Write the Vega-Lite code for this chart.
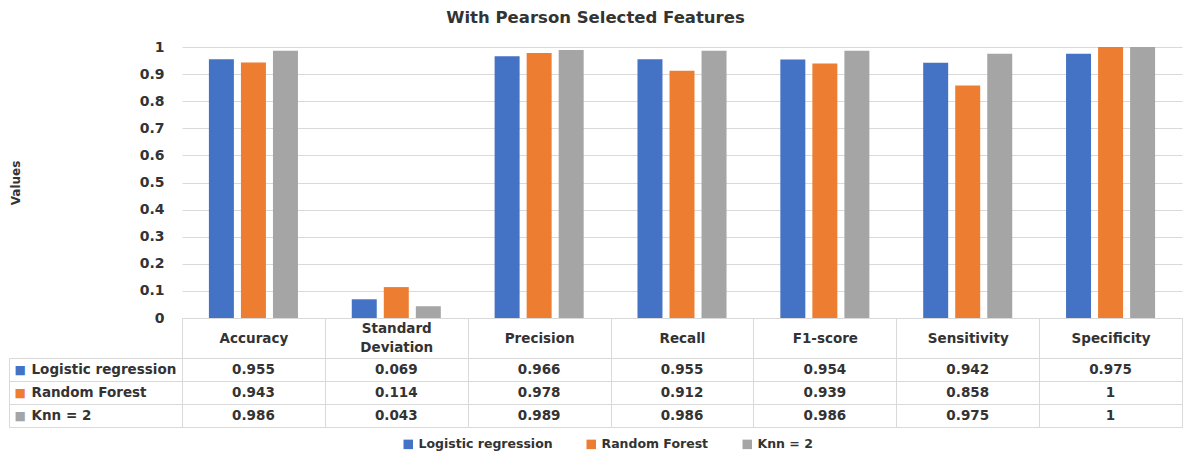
{
  "$schema": "https://vega.github.io/schema/vega-lite/v6.json",
  "padding": {"left": 8, "top": 9, "right": 0, "bottom": 0},
  "title": {"text": "With Pearson Selected Features", "font": "DejaVu Sans", "fontSize": 16.5, "fontWeight": "bold", "color": "#333333", "anchor": "middle", "offset": 14},
  "spacing": 40,
  "bounds": "flush",
  "config": {
    "font": "DejaVu Sans",
    "view": {"stroke": "#D9D9D9"}
  },
  "data": {"values": [
    {"metric": "Accuracy", "model": "Logistic regression", "value": 0.955},
    {"metric": "Standard Deviation", "model": "Logistic regression", "value": 0.069},
    {"metric": "Precision", "model": "Logistic regression", "value": 0.966},
    {"metric": "Recall", "model": "Logistic regression", "value": 0.955},
    {"metric": "F1-score", "model": "Logistic regression", "value": 0.954},
    {"metric": "Sensitivity", "model": "Logistic regression", "value": 0.942},
    {"metric": "Specificity", "model": "Logistic regression", "value": 0.975},
    {"metric": "Accuracy", "model": "Random Forest", "value": 0.943},
    {"metric": "Standard Deviation", "model": "Random Forest", "value": 0.114},
    {"metric": "Precision", "model": "Random Forest", "value": 0.978},
    {"metric": "Recall", "model": "Random Forest", "value": 0.912},
    {"metric": "F1-score", "model": "Random Forest", "value": 0.939},
    {"metric": "Sensitivity", "model": "Random Forest", "value": 0.858},
    {"metric": "Specificity", "model": "Random Forest", "value": 1},
    {"metric": "Accuracy", "model": "Knn = 2", "value": 0.986},
    {"metric": "Standard Deviation", "model": "Knn = 2", "value": 0.043},
    {"metric": "Precision", "model": "Knn = 2", "value": 0.989},
    {"metric": "Recall", "model": "Knn = 2", "value": 0.986},
    {"metric": "F1-score", "model": "Knn = 2", "value": 0.986},
    {"metric": "Sensitivity", "model": "Knn = 2", "value": 0.975},
    {"metric": "Specificity", "model": "Knn = 2", "value": 1}
  ]},
  "resolve": {"scale": {"color": "shared"}, "legend": {"color": "shared"}},
  "vconcat": [
    {
      "width": 1000,
      "height": 271,
      "view": {"stroke": null},
      "mark": {"type": "bar"},
      "encoding": {
        "x": {"field": "metric", "type": "nominal",
          "sort": ["Accuracy", "Standard Deviation", "Precision", "Recall", "F1-score", "Sensitivity", "Specificity"],
          "scale": {"paddingInner": 0, "paddingOuter": 0},
          "axis": {"title": null, "labels": false, "ticks": false, "grid": false, "domainColor": "#D9D9D9"}},
        "xOffset": {"field": "model", "type": "nominal",
          "sort": ["Logistic regression", "Random Forest", "Knn = 2"],
          "scale": {"paddingInner": 0.22, "paddingOuter": 0.84}},
        "y": {"field": "value", "type": "quantitative",
          "scale": {"domain": [0, 1]},
          "axis": {"values": [0, 0.1, 0.2, 0.3, 0.4, 0.5, 0.6, 0.7, 0.8, 0.9, 1], "format": "~g",
            "title": "Values", "domain": false, "ticks": false, "gridColor": "#D9D9D9",
            "labelPadding": 18, "labelFont": "DejaVu Sans", "labelFontWeight": "bold", "labelFontSize": 14, "labelColor": "#333333",
            "titleFont": "DejaVu Sans", "titleFontWeight": "bold", "titleFontSize": 12, "titleColor": "#333333",
            "titleAngle": 270, "titleX": -160, "titleY": 135.5, "titleBaseline": "bottom", "titleAlign": "center"}},
        "color": {"field": "model", "type": "nominal",
          "sort": ["Logistic regression", "Random Forest", "Knn = 2"],
          "scale": {"domain": ["Logistic regression", "Random Forest", "Knn = 2"], "range": ["#4472C4", "#ED7D31", "#A5A5A5"]},
          "legend": {"orient": "none", "legendX": 220, "legendY": 391, "direction": "horizontal", "title": null, "symbolType": "square", "symbolSize": 90,
            "symbolStrokeWidth": 0, "labelFont": "DejaVu Sans", "labelFontWeight": "bold", "labelFontSize": 12.5, "labelColor": "#333333",
            "columnPadding": 32, "labelOffset": 4, "labelLimit": 0}}
      }
    },
    {
      "width": 1000,
      "height": 69,
      "layer": [
        {
          "mark": {"type": "text", "font": "DejaVu Sans", "fontWeight": "bold", "fontSize": 13.5, "color": "#333333"},
          "encoding": {
            "x": {"field": "metric", "type": "nominal",
              "sort": ["Accuracy", "Standard Deviation", "Precision", "Recall", "F1-score", "Sensitivity", "Specificity"],
              "scale": {"paddingInner": 0, "paddingOuter": 0},
              "axis": {"orient": "top", "title": null, "tickBand": "extent", "tickSize": 40, "tickColor": "#D9D9D9",
                "domainColor": "#D9D9D9", "grid": true, "gridColor": "#D9D9D9", "labelAngle": 0,
                "labelPadding": {"condition": {"test": "datum.value === 'Standard Deviation'", "value": -10.5}, "value": -20},
                "labelBaseline": "middle", "labelAlign": "center", "labelFont": "DejaVu Sans", "labelFontWeight": "bold",
                "labelFontSize": 13.5, "labelColor": "#333333", "labelLineHeight": 19, "labelOverlap": false, "labelLimit": 0,
                "labelExpr": "datum.value == 'Standard Deviation' ? ['Standard', 'Deviation'] : datum.label"}},
            "y": {"field": "model", "type": "nominal",
              "sort": ["Logistic regression", "Random Forest", "Knn = 2"],
              "scale": {"paddingInner": 0, "paddingOuter": 0},
              "axis": {"orient": "left", "title": null, "tickBand": "extent", "tickSize": 173, "tickColor": "#D9D9D9",
                "domainColor": "#D9D9D9", "grid": true, "gridColor": "#D9D9D9", "labelAlign": "left", "labelPadding": -22,
                "labelBaseline": "middle", "labelFont": "DejaVu Sans", "labelFontWeight": "bold", "labelFontSize": 13.5,
                "labelColor": "#333333", "labelLimit": 0}},
            "text": {"field": "value", "type": "nominal"}
          }
        },
        {
          "mark": {"type": "text", "opacity": 0},
          "encoding": {
            "y": {"field": "model", "type": "nominal",
              "sort": ["Logistic regression", "Random Forest", "Knn = 2"],
              "axis": {"orient": "left", "offset": 173, "title": null, "ticks": false, "grid": false, "domainColor": "#D9D9D9",
                "labelExpr": "'■'", "labelAlign": "left", "labelPadding": -5, "labelBaseline": "middle", "labelFontSize": 12,
                "labelColor": {"condition": [
                  {"test": "datum.value === 'Logistic regression'", "value": "#4472C4"},
                  {"test": "datum.value === 'Random Forest'", "value": "#ED7D31"}
                ], "value": "#A5A5A5"}}},
            "text": {"value": ""}
          }
        }
      ],
      "resolve": {"axis": {"y": "independent"}}
    }
  ]
}
